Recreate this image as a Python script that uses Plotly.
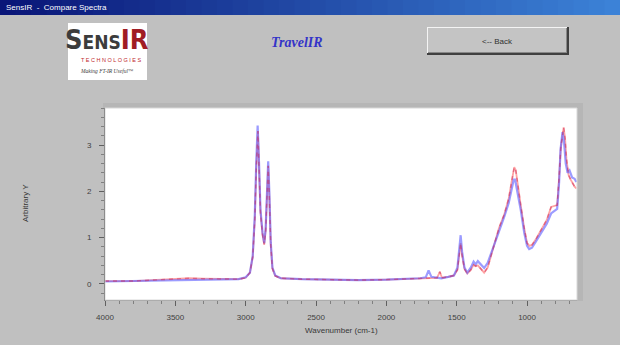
import plotly.graph_objects as go

# ---- data ----
wn_blue = [4000, 3800, 3600, 3400, 3200, 3050, 3000, 2970, 2950, 2935, 2925, 2915, 2905, 2895, 2880,
           2868, 2858, 2848, 2840, 2832, 2822, 2810, 2790, 2750, 2600, 2400, 2200, 2000, 1900, 1760,
           1720, 1700, 1680, 1640, 1610, 1560, 1520, 1495, 1480, 1472, 1462, 1445, 1425, 1400, 1380,
           1365, 1350, 1330, 1305, 1280, 1250, 1230, 1200, 1162, 1130, 1110, 1095, 1085, 1065, 1045,
           1020, 1000, 985, 965, 940, 900, 860, 829, 800, 786, 772, 762, 748, 738, 725, 712, 698, 680,
           662, 650]
abs_blue = [0.05, 0.06, 0.07, 0.07, 0.08, 0.10, 0.14, 0.24, 0.60, 1.50, 2.60, 3.42, 2.60, 1.60, 1.10,
            0.88, 1.20, 2.20, 2.65, 2.00, 0.90, 0.35, 0.18, 0.12, 0.10, 0.09, 0.08, 0.09, 0.10, 0.12,
            0.14, 0.29, 0.15, 0.13, 0.12, 0.15, 0.18, 0.35, 0.80, 1.05, 0.70, 0.35, 0.24, 0.35, 0.48,
            0.42, 0.49, 0.42, 0.34, 0.45, 0.70, 0.88, 1.15, 1.45, 1.75, 2.05, 2.25, 2.25, 1.95, 1.60,
            1.10, 0.82, 0.75, 0.78, 0.90, 1.09, 1.30, 1.52, 1.58, 1.62, 2.20, 2.90, 3.28, 3.10, 2.60,
            2.40, 2.45, 2.30, 2.27, 2.20]

wn_red = [4000, 3800, 3600, 3400, 3300, 3200, 3050, 3000, 2970, 2950, 2935, 2925, 2913, 2905, 2895,
          2880, 2868, 2858, 2848, 2840, 2832, 2822, 2810, 2790, 2750, 2600, 2400, 2200, 2000, 1900,
          1760, 1700, 1640, 1620, 1605, 1560, 1520, 1495, 1480, 1472, 1462, 1445, 1425, 1400, 1380,
          1365, 1350, 1330, 1305, 1280, 1250, 1230, 1200, 1162, 1130, 1110, 1091, 1080, 1065, 1045,
          1020, 1000, 984, 965, 940, 900, 860, 829, 800, 786, 772, 760, 740, 730, 720, 705, 690, 675,
          662, 650]
abs_red = [0.06, 0.06, 0.09, 0.12, 0.11, 0.10, 0.10, 0.13, 0.24, 0.58, 1.40, 2.50, 3.30, 2.50, 1.55,
           1.05, 0.85, 1.15, 2.10, 2.55, 1.90, 0.85, 0.33, 0.17, 0.12, 0.10, 0.09, 0.08, 0.09, 0.10,
           0.12, 0.12, 0.13, 0.26, 0.13, 0.15, 0.18, 0.30, 0.68, 0.88, 0.62, 0.32, 0.22, 0.30, 0.41,
           0.38, 0.40, 0.32, 0.24, 0.35, 0.68, 0.90, 1.20, 1.50, 1.85, 2.20, 2.52, 2.45, 2.10, 1.70,
           1.20, 0.88, 0.82, 0.84, 0.95, 1.15, 1.38, 1.66, 1.68, 1.70, 2.30, 2.95, 3.38, 3.15, 2.70,
           2.35, 2.25, 2.15, 2.10, 2.06]

x_ticks = [4000, 3500, 3000, 2500, 2000, 1500, 1000]
y_ticks = [0, 1, 2, 3]

# ---- layout geometry (pixels) ----
W, H = 620, 345
L, R, T, B = 105, 43, 108, 45
PW, PH = W - L - R, H - T - B


def px(x):
    return (x - L) / PW


def py(y):
    return (H - B - y) / PH


fig = go.Figure()
fig.add_trace(go.Scatter(x=wn_red, y=abs_red, mode="lines",
                         line=dict(color="rgba(255,90,90,0.55)", width=1.8),
                         showlegend=False, hoverinfo="skip"))
fig.add_trace(go.Scatter(x=wn_blue, y=abs_blue, mode="lines",
                         line=dict(color="rgba(90,90,255,0.6)", width=2.2),
                         showlegend=False, hoverinfo="skip"))
fig.add_trace(go.Scatter(x=wn_red, y=abs_red, mode="lines",
                         line=dict(color="rgba(200,40,90,0.5)", width=1.4, dash="4px,4px"),
                         showlegend=False, hoverinfo="skip"))

shapes = []
# title bar gradient
n = 40
c0 = (10, 22, 120)
c1 = (60, 130, 215)
for i in range(n):
    t = i / (n - 1)
    col = "rgb(%d,%d,%d)" % tuple(int(c0[k] + (c1[k] - c0[k]) * t) for k in range(3))
    shapes.append(dict(type="rect", xref="paper", yref="paper",
                       x0=px(W * i / n), x1=px(W * (i + 1) / n + 1), y0=py(15), y1=py(0),
                       fillcolor=col, line=dict(width=0)))
# logo box
shapes.append(dict(type="rect", xref="paper", yref="paper", x0=px(68), x1=px(147), y0=py(80), y1=py(23),
                   fillcolor="white", line=dict(width=0)))
# back button (3D)
shapes.append(dict(type="rect", xref="paper", yref="paper", x0=px(427), x1=px(569), y0=py(55), y1=py(27),
                   fillcolor="#404040", line=dict(width=0)))
shapes.append(dict(type="rect", xref="paper", yref="paper", x0=px(427), x1=px(567), y0=py(53), y1=py(27),
                   fillcolor="#f4f4f4", line=dict(width=0)))
shapes.append(dict(type="rect", xref="paper", yref="paper", x0=px(428), x1=px(567), y0=py(53), y1=py(28),
                   fillcolor="#888888", line=dict(width=0)))
shapes.append(dict(type="rect", xref="paper", yref="paper", x0=px(428), x1=px(566), y0=py(52), y1=py(28),
                   fillcolor="#c4c4c4", line=dict(width=0)))
# plot frame shading
shapes.append(dict(type="rect", xref="paper", yref="paper", x0=px(577), x1=px(583), y0=py(301), y1=py(104),
                   fillcolor="#b6b6b6", line=dict(width=0), layer="below"))
shapes.append(dict(type="rect", xref="paper", yref="paper", x0=px(103), x1=px(583), y0=py(108), y1=py(103),
                   fillcolor="#b6b6b6", line=dict(width=0), layer="below"))
shapes.append(dict(type="rect", xref="paper", yref="paper", x0=0, x1=1, y0=0, y1=1,
                   fillcolor="rgba(0,0,0,0)", line=dict(color="#d8d8d8", width=1)))

COND = "DejaVu Sans Condensed, Liberation Sans, sans-serif"


def ann(text, x, y, size, color, family="Liberation Sans", xanchor="center", yanchor="middle", **kw):
    return dict(text=text, x=px(x), y=py(y), xref="paper", yref="paper", showarrow=False,
                xanchor=xanchor, yanchor=yanchor,
                font=dict(family=family, size=size, color=color), **kw)


logo_txt = ("<b>S<span style='font-size:19px'>ENS</span>"
            "<span style='color:#a01c24'>IR</span></b>")

annotations = [
    ann("SensIR  -  Compare Spectra", 4, 7.5, 8, "white", xanchor="left"),
    # logo text
    ann(logo_txt, 107, 40, 27, "#3c3c3c", family=COND),
    ann("T E C H N O L O G I E S", 111, 60, 5.5, "#c0282e"),
    ann("<i>Making FT-IR Useful</i>™", 107, 71, 5.5, "#404040", family="Liberation Serif"),
    ann("<b><i>TravelIR</i></b>", 297, 43, 14, "#3434c8", family="Liberation Serif"),
    ann("<-- Back", 497, 41, 8, "#303030"),
    ann("Arbitrary Y", 25, 203, 8, "#383838", textangle=-90),
    ann("Wavenumber (cm-1)", 341, 330, 8, "#383838"),
]

fig.update_layout(
    width=W, height=H,
    margin=dict(l=L, r=R, t=T, b=B, pad=0),
    paper_bgcolor="#c0c0c0", plot_bgcolor="white",
    shapes=shapes, annotations=annotations,
    xaxis=dict(range=[4000, 645], tickvals=x_ticks, ticktext=[str(v) for v in x_ticks],
               showgrid=False, zeroline=False, showline=True, linecolor="#808080", linewidth=1,
               ticks="outside", ticklen=5, tickcolor="#606060", ticklabelstandoff=4,
               tickfont=dict(family="Liberation Sans", size=8, color="#404040"),
               minor=dict(dtick=100, tick0=0, ticks="outside", ticklen=3, tickcolor="#808080")),
    yaxis=dict(range=[-0.35, 3.8], tickvals=y_ticks, ticktext=[str(v) for v in y_ticks],
               showgrid=False, zeroline=False, showline=True, linecolor="#404040", linewidth=1,
               ticks="outside", ticklen=5, tickcolor="#606060", ticklabelstandoff=6,
               tickfont=dict(family="Liberation Sans", size=8, color="#404040"),
               minor=dict(dtick=0.2, tick0=0, ticks="outside", ticklen=3, tickcolor="#808080")),
)

fig.write_html("out.html")
